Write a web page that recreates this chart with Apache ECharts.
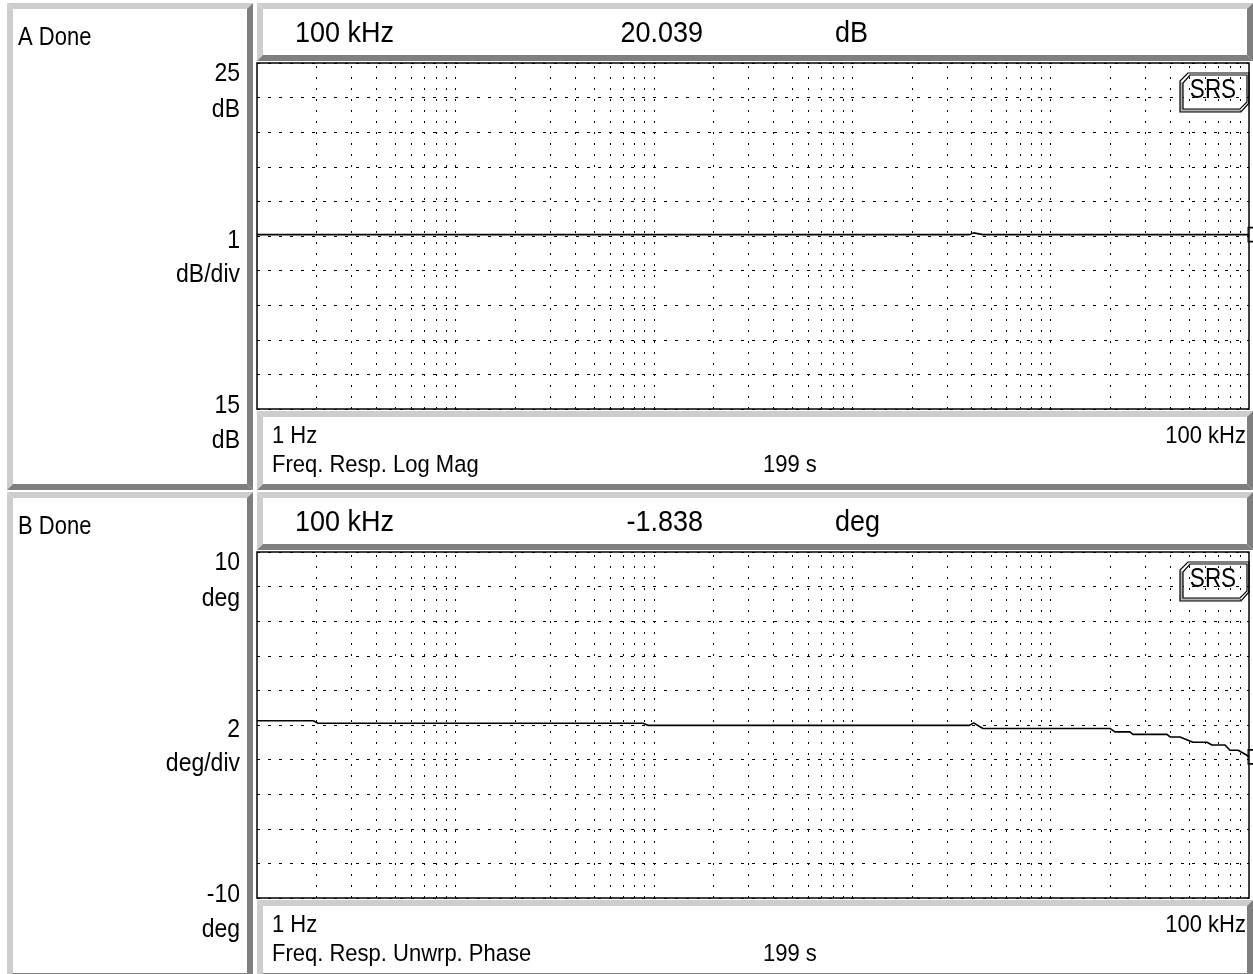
<!DOCTYPE html>
<html><head><meta charset="utf-8">
<script src="https://cdn.jsdelivr.net/npm/echarts@6/dist/echarts.min.js"></script>
<style>html,body{margin:0;padding:0;background:#fff;}#c{width:1253px;height:974px;}</style>
</head><body><div id="c"></div>
<script>
// ---------- data ----------
const magFreqHz = [1, 1000, 3900, 4090, 4560, 10000, 50000, 100000];
const magDb     = [20.04, 20.04, 20.04, 20.09, 20.04, 20.04, 20.04, 20.039];

const phaseFreqHz = [1, 1.92, 2.03, 88.3, 93.5, 3900, 4090, 4560, 19900, 21100, 25100, 26000, 38600, 40000, 44900, 52200, 61400, 65100, 75700, 80200, 88100, 97700, 100000];
const phaseDeg    = [0.25, 0.25, 0.10, 0.10, -0.02, -0.02, 0.12, -0.20, -0.20, -0.40, -0.40, -0.54, -0.54, -0.69, -0.69, -1.00, -1.00, -1.16, -1.16, -1.46, -1.46, -1.75, -1.838];

const panelStatus   = ['A Done', 'B Done'];
const markerFreq    = ['100 kHz', '100 kHz'];
const markerValue   = ['20.039', '-1.838'];
const markerUnit    = ['dB', 'deg'];
const scaleTopVal   = ['25', '10'];
const scaleTopUnit  = ['dB', 'deg'];
const scaleDivVal   = ['1', '2'];
const scaleDivUnit  = ['dB/div', 'deg/div'];
const scaleBotVal   = ['15', '-10'];
const scaleBotUnit  = ['dB', 'deg'];
const xStartLabel   = ['1 Hz', '1 Hz'];
const xEndLabel     = ['100 kHz', '100 kHz'];
const measureName   = ['Freq. Resp. Log Mag', 'Freq. Resp. Unwrp. Phase'];
const sweepTime     = ['199 s', '199 s'];
const yMin = [15, -10], yMax = [25, 10], yStep = [1, 2];
const xMinHz = 1, xMaxHz = 100000;
const logoText = 'SRS';

// grid frequencies (2..9 of every decade, and the decades between)
const gridMult = [1, 2, 3, 4, 5, 6, 7, 8, 9];
const gridDecades = [1, 10, 100, 1000, 10000];
const gridFreqs = [];
gridDecades.forEach(d => gridMult.forEach(m => { const f = m * d; if (f > xMinHz && f < xMaxHz) gridFreqs.push(f); }));

// ---------- layout ----------
const FONT = '"Liberation Sans", Arial, Helvetica, sans-serif';
const LIGHT = '#cdcdcd', DARK = '#7f7f7f';
const panelOffset = [0, 489];
const plotL = 257, plotT = 63, plotW = 992, plotH = 346;

const graphic = [];
function bevel(x0, y0, x1, y1, t) {
  graphic.push({type:'polygon', silent:true, shape:{points:[[x0,y0],[x1,y0],[x1-t,y0+t],[x0+t,y0+t]]}, style:{fill:LIGHT}});
  graphic.push({type:'polygon', silent:true, shape:{points:[[x0,y0],[x0+t,y0+t],[x0+t,y1-t],[x0,y1]]}, style:{fill:LIGHT}});
  graphic.push({type:'polygon', silent:true, shape:{points:[[x0,y1],[x0+t,y1-t],[x1-t,y1-t],[x1,y1]]}, style:{fill:DARK}});
  graphic.push({type:'polygon', silent:true, shape:{points:[[x1,y0],[x1,y1],[x1-t,y1-t],[x1-t,y0+t]]}, style:{fill:DARK}});
}
function txt(s, x, y, size, align, sy) {
  graphic.push({type:'text', silent:true, x:x, y:y, scaleY: sy || 1.12, z: 120, style:{text:s, font: size + 'px ' + FONT, fill:'#000',
    align:align, verticalAlign:'middle', textAlign:align, textVerticalAlign:'middle'}});
}

panelOffset.forEach((oy, i) => {
  bevel(7, 3 + oy, 253, 490 + oy, 6);
  bevel(257, 3 + oy, 1253, 61 + oy, 6);
  bevel(257, 411 + oy, 1253, 490 + oy, 6);
  txt(panelStatus[i], 18, 38.5 + oy, 22, 'left', 1.15);
  txt(scaleTopVal[i], 240, 74 + oy, 23, 'right');
  txt(scaleTopUnit[i], 240, 109.5 + oy, 23, 'right');
  txt(scaleDivVal[i], 240, 240.5 + oy, 23, 'right');
  txt(scaleDivUnit[i], 240, 275 + oy, 23, 'right');
  txt(scaleBotVal[i], 240, 406 + oy, 23, 'right');
  txt(scaleBotUnit[i], 240, 441 + oy, 23, 'right');
  txt(markerFreq[i], 295, 33.5 + oy, 27, 'left', 1.1);
  txt(markerValue[i], 703, 33.5 + oy, 27, 'right', 1.1);
  txt(markerUnit[i], 835, 33.5 + oy, 27, 'left', 1.1);
  txt(xStartLabel[i], 272, 436.5 + oy, 22, 'left', 1.08);
  txt(xEndLabel[i], 1246, 436.5 + oy, 22, 'right', 1.08);
  txt(measureName[i], 272, 465 + oy, 22, 'left', 1.08);
  txt(sweepTime[i], 763, 465 + oy, 22, 'left', 1.08);
  // SRS badge
  const L = [[1188,73],[1249,73],[1249,103],[1241,112],[1180,112],[1180,81]].map(p => [p[0], p[1] + oy]);
  const I = [[1190,75],[1247,75],[1247,102],[1240,109],[1183,109],[1183,83]].map(p => [p[0], p[1] + oy]);
  graphic.push({type:'polygon', silent:true, z:110, shape:{points:[L[4], L[5], I[5], I[4]]}, style:{fill:'#b4b4b4'}});
  graphic.push({type:'polygon', silent:true, z:110, shape:{points:[L[3], L[4], I[4], I[3]]}, style:{fill:'#b4b4b4'}});
  graphic.push({type:'polygon', silent:true, z:111, shape:{points:L}, style:{fill:'none', stroke:'#000', lineWidth:1.2}});
  graphic.push({type:'polygon', silent:true, z:111, shape:{points:I}, style:{fill:'none', stroke:'#000', lineWidth:1.2}});
  txt(logoText, 1213, 90.5 + oy, 22.5, 'center', 1.2);
});

const grids = [], xAxes = [], yAxes = [], series = [];
const seriesData = [
  magFreqHz.map((f, k) => [f, magDb[k]]),
  phaseFreqHz.map((f, k) => [f, phaseDeg[k]])
];
panelOffset.forEach((oy, i) => {
  grids.push({left: plotL, top: plotT + oy, width: plotW, height: plotH, show: true, borderColor: '#000', borderWidth: 1.5, backgroundColor: '#fff'});
  xAxes.push({type: 'log', logBase: 10, gridIndex: i, min: xMinHz, max: xMaxHz,
    axisLine: {show: false}, axisTick: {show: false}, axisLabel: {show: false}, splitLine: {show: false}});
  yAxes.push({type: 'value', gridIndex: i, min: yMin[i], max: yMax[i], interval: yStep[i],
    axisLine: {show: false}, axisTick: {show: false}, axisLabel: {show: false},
    splitLine: {show: true, lineStyle: {color: '#000', width: 1, type: [3, 8]}}});
  const last = seriesData[i][seriesData[i].length - 1];
  series.push({
    type: 'line', xAxisIndex: i, yAxisIndex: i, data: seriesData[i], showSymbol: false, symbol: 'none',
    lineStyle: {color: '#000', width: 1.6}, animation: false, silent: true, z: 3,
    markLine: {silent: true, symbol: ['none', 'none'], animation: false, label: {show: false},
      lineStyle: {color: '#000', width: 1, type: [2, 9]},
      data: gridFreqs.map(f => ({xAxis: f}))},
    markPoint: {silent: true, animation: false, symbol: 'rect', symbolSize: [8, 14], symbolOffset: [3, 0],
      itemStyle: {color: 'rgba(255,255,255,0)', borderColor: '#000', borderWidth: 1.3}, label: {show: false},
      data: [{coord: last}]}
  });
});

const chart = echarts.init(document.getElementById('c'), null, {renderer: 'canvas'});
chart.setOption({
  backgroundColor: '#fff',
  animation: false,
  grid: grids, xAxis: xAxes, yAxis: yAxes, series: series,
  graphic: {elements: graphic}
});
</script>
</body></html>
